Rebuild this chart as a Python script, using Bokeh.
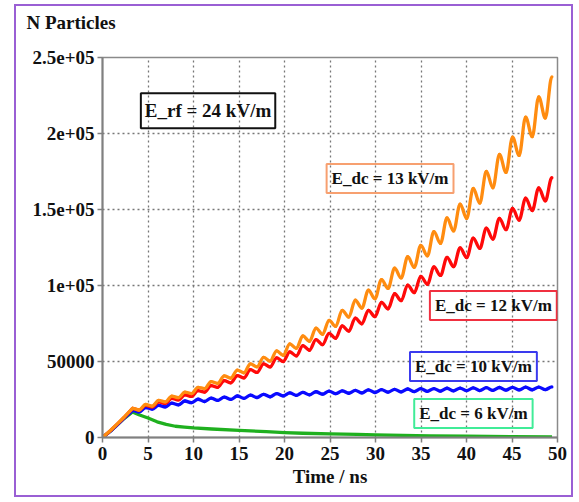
from bokeh.plotting import figure
from bokeh.models import Range1d, FixedTicker, Label, Title
from bokeh.embed import file_html
from bokeh.resources import INLINE

# ---------------- data (N particles in thousands) ----------------
time_early = [0.0, 0.9, 1.6, 2.4]
# alternating crest / trough times of the oscillating curves
time_osc = [3.30, 4.02, 4.74, 5.46, 6.18, 6.90, 7.62, 8.34, 9.06, 9.78,
            10.50, 11.22, 11.94, 12.66, 13.38, 14.10, 14.82, 15.54, 16.26, 16.98,
            17.70, 18.42, 19.14, 19.86, 20.58, 21.30, 22.02, 22.74, 23.46, 24.18,
            24.90, 25.62, 26.34, 27.06, 27.78, 28.50, 29.22, 29.94, 30.66, 31.38,
            32.10, 32.82, 33.54, 34.26, 34.98, 35.70, 36.42, 37.14, 37.86, 38.58,
            39.30, 40.02, 40.74, 41.46, 42.18, 42.90, 43.62, 44.34, 45.06, 45.78,
            46.50, 47.22, 47.94, 48.66, 49.38]

edc13_early = [0, 4.8, 8.8, 13.5]
edc13_osc = [19.2, 18.1, 21.7, 20.7, 24.4, 23.4, 27.2, 26.2, 29.9, 28.9,
             33.0, 32.2, 36.8, 35.6, 40.6, 39.1, 44.3, 42.6, 48.5, 46.5,
             52.7, 50.3, 57.0, 54.1, 61.6, 58.7, 66.8, 63.3, 72.0, 67.9,
             77.1, 73.1, 83.7, 79.2, 90.3, 85.2, 96.9, 91.3, 103.9, 98.1,
             111.4, 105.0, 118.9, 112.0, 126.4, 119.5, 135.5, 127.7, 144.5, 135.9,
             153.6, 144.1, 163.8, 154.2, 175.0, 164.3, 186.2, 174.4, 197.6, 185.6,
             210.8, 197.9, 224.1, 210.2, 237.3]

edc12_early = [0, 4.6, 8.6, 13.3]
edc12_osc = [19.1, 18.0, 21.2, 20.1, 23.5, 22.4, 25.8, 24.7, 28.1, 27.0,
             30.8, 29.9, 34.1, 33.0, 37.4, 36.0, 40.7, 39.2, 44.6, 42.8,
             48.5, 46.4, 52.4, 50.0, 56.3, 53.7, 60.4, 57.4, 64.4, 61.1,
             68.5, 65.3, 73.5, 70.0, 78.5, 74.8, 83.6, 79.5, 88.9, 84.7,
             94.6, 90.0, 100.3, 95.3, 106.0, 100.8, 112.2, 106.6, 118.5, 112.4,
             124.8, 118.3, 131.2, 124.4, 137.7, 130.6, 144.2, 136.7, 150.8, 143.0,
             157.5, 149.3, 164.2, 155.7, 170.9]

edc10_early = [0, 4.3, 8.2, 12.8]
edc10_osc = [17.8, 16.8, 19.7, 18.7, 21.2, 20.1, 22.6, 21.5, 24.0, 22.9,
             25.15, 23.7, 25.9, 24.4, 26.6, 25.1, 27.3, 25.8, 27.85, 26.3,
             28.4, 26.8, 28.9, 27.35, 29.35, 27.7, 29.7, 28.1, 30.1, 28.5,
             30.5, 28.8, 30.7, 29.1, 31.0, 29.3, 31.3, 29.6, 31.5, 29.8,
             31.7, 30.0, 31.9, 30.2, 32.1, 30.4, 32.2, 30.5, 32.4, 30.7,
             32.5, 30.8, 32.7, 30.9, 32.8, 31.0, 32.9, 31.2, 33.0, 31.3,
             33.1, 31.4, 33.2, 31.5, 33.3]

time_edc6 = [0, 0.9, 1.6, 2.4, 3.3, 4.0, 5, 6, 7, 8, 9, 10, 12, 15, 18, 20, 22,
             25, 28, 30, 33, 36, 40, 45, 49.4]
edc6 = [0, 4.3, 8.2, 12.6, 16.8, 15.0, 12.8, 10.3, 8.6, 7.4, 6.8, 6.3, 5.6, 4.7,
        3.8, 3.2, 2.8, 2.4, 2.0, 1.7, 1.4, 1.1, 0.9, 0.6, 0.4]

x_ticks = [0, 5, 10, 15, 20, 25, 30, 35, 40, 45, 50]
y_ticks = [0, 50000, 100000, 150000, 200000, 250000]
y_tick_labels = ["0", "50000", "1e+05", "1.5e+05", "2e+05", "2.5e+05"]

osc_series = [
    ("E_dc = 10 kV/m", edc10_early, edc10_osc, "#0a0aff"),
    ("E_dc = 12 kV/m", edc12_early, edc12_osc, "#ff0a0a"),
    ("E_dc = 13 kV/m", edc13_early, edc13_osc, "#ff8c10"),
]

# label boxes: (text, x, y, border colour, font size, padding)
boxes = [
    ("E_rf = 24 kV/m", 11.6, 215000, "#111111", "19px", (4, 7)),
    ("E_dc = 13 kV/m", 31.6, 170400, "#f7a070", "17px", (5, 5)),
    ("E_dc = 12 kV/m", 42.95, 86800, "#f03040", "17px", (5, 5)),
    ("E_dc = 10 kV/m", 40.76, 46700, "#3a3aee", "17px", (5, 5)),
    ("E_dc = 6 kV/m", 40.76, 15800, "#40ec98", "17px", (5, 5)),
]

FONT = "Liberation Serif"

p = figure(width=559, height=493, x_range=Range1d(0, 50), y_range=Range1d(0, 250000),
           output_backend="svg", toolbar_location=None,
           min_border_left=86, min_border_right=18, min_border_top=51, min_border_bottom=62)
p.styles = {"border": "2px solid #9a5fd4", "margin-left": "14px", "margin-top": "4px"}
p.title.text = ""
# invisible spacer panel next to the frame, then the y quantity title above it
p.add_layout(Title(text=" ", text_font_size="10px", standoff=10), "above")
p.add_layout(Title(text="N Particles", align="left", vertical_align="top", offset=-76,
                   standoff=0, text_font=FONT, text_font_style="bold",
                   text_font_size="19px", text_color="#111111"), "above")
p.background_fill_color = "white"
p.border_fill_color = "white"
p.outline_line_color = "#8a8a8a"
p.outline_line_width = 1.5

for ax in (p.xaxis[0], p.yaxis[0]):
    ax.axis_line_color = "#808080"
    ax.axis_line_width = 2
    ax.major_tick_line_color = "#808080"
    ax.major_tick_line_width = 1.5
    ax.major_tick_out = 5
    ax.major_tick_in = 0
    ax.minor_tick_line_color = None
    ax.major_label_text_font = FONT
    ax.major_label_text_font_style = "bold"
    ax.major_label_text_font_size = "19px"
    ax.major_label_text_color = "#111111"

p.xaxis.ticker = FixedTicker(ticks=x_ticks)
p.yaxis.ticker = FixedTicker(ticks=y_ticks)
p.yaxis.major_label_overrides = {t: l for t, l in zip(y_ticks, y_tick_labels)}
p.yaxis.major_label_standoff = 3
p.xaxis.major_label_standoff = 4
p.xaxis.axis_label = "Time / ns"
p.xaxis.axis_label_text_font = FONT
p.xaxis.axis_label_text_font_style = "bold"
p.xaxis.axis_label_text_font_size = "19px"
p.xaxis.axis_label_text_color = "#111111"
p.xaxis.axis_label_standoff = 3

for g in (p.xgrid[0], p.ygrid[0]):
    g.grid_line_color = "#777777"
    g.grid_line_dash = "2 3"
    g.grid_line_width = 1.3

LW = 3.3
p.line(time_edc6, [v * 1000 for v in edc6], line_color="#1fb01f", line_width=LW,
       line_join="round")

for name, early, osc, col in osc_series:
    # initial rise as straight segments, joining the first crest
    p.line(time_early + time_osc[:1], [v * 1000 for v in early + osc[:1]],
           line_color=col, line_width=LW, line_join="round", line_cap="round")
    # crest-to-trough oscillation drawn as smooth curves between read extrema
    x0 = time_osc[:-1]
    x1 = time_osc[1:]
    y0 = [v * 1000 for v in osc[:-1]]
    y1 = [v * 1000 for v in osc[1:]]
    cx0 = [a + (b - a) * 0.36 for a, b in zip(x0, x1)]
    cx1 = [b - (b - a) * 0.36 for a, b in zip(x0, x1)]
    p.bezier(x0=x0, y0=y0, x1=x1, y1=y1, cx0=cx0, cy0=y0, cx1=cx1, cy1=y1,
             line_color=col, line_width=LW, line_cap="round")

for text, x, y, col, fs, pad in boxes:
    p.add_layout(Label(x=x, y=y, text=text, text_align="center", text_baseline="middle",
                       text_font=FONT, text_font_style="bold", text_font_size=fs,
                       text_color="#111111", border_line_color=col, border_line_width=2,
                       padding=pad))

open("out.html", "w").write(file_html(p, INLINE))
